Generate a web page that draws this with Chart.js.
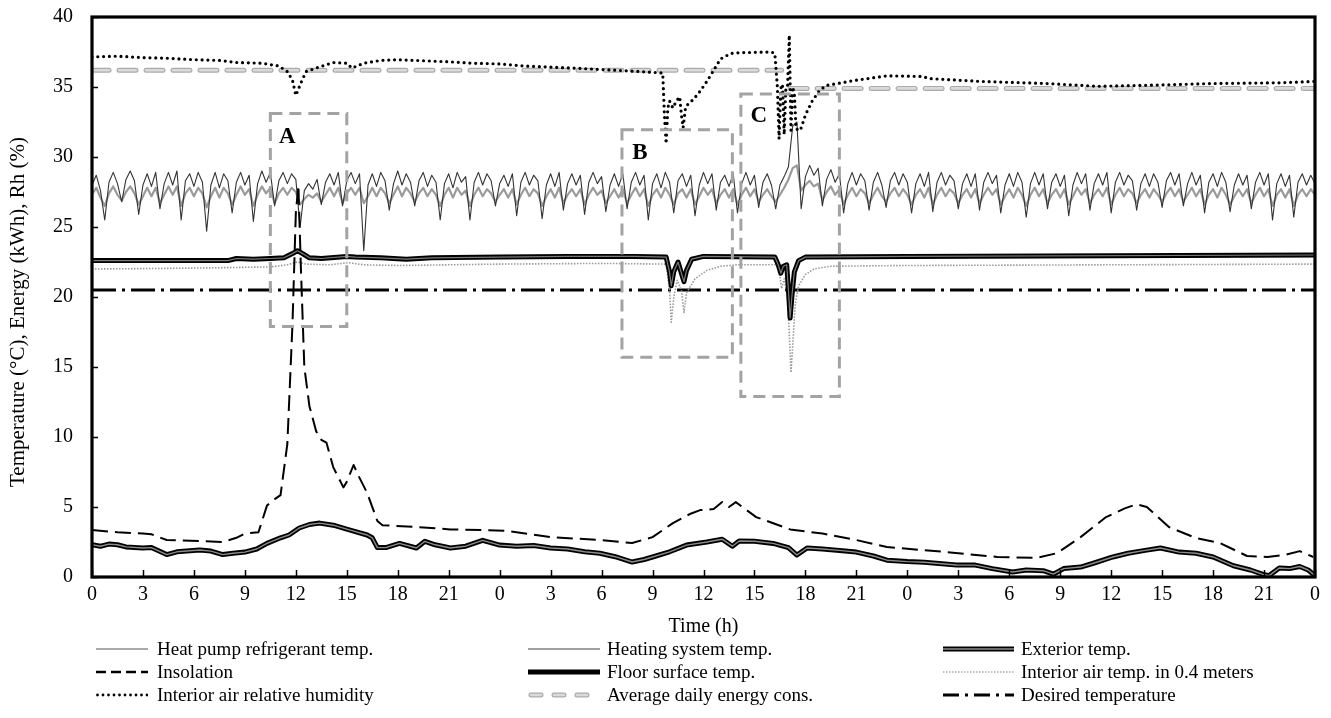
<!DOCTYPE html>
<html>
<head>
<meta charset="utf-8">
<script src="https://cdn.jsdelivr.net/npm/chart.js@4.4.1/dist/chart.umd.min.js"></script>
<style>
html,body{margin:0;padding:0;background:#fff;}
#wrap{position:relative;width:1331px;height:718px;font-family:"Liberation Serif","Times New Roman",serif;overflow:hidden;}
#chart{position:absolute;left:0;top:0;}
.lt{position:absolute;font-size:19px;line-height:22px;color:#000;white-space:nowrap;}
.ls{position:absolute;}
</style>
</head>
<body>
<div id="wrap">
  <canvas id="chart" width="1331" height="718"></canvas>
  <div id="legend"></div>
</div>
<script>
// ---- data (hours since start, 3 days) ----
const xTickHours  = [0,3,6,9,12,15,18,21,24,27,30,33,36,39,42,45,48,51,54,57,60,63,66,69,72];
const xTickLabels = ['0','3','6','9','12','15','18','21','0','3','6','9','12','15','18','21','0','3','6','9','12','15','18','21','0'];
const yTicks = [0,5,10,15,20,25,30,35,40];
const yTitle = 'Temperature (°C), Energy (kWh), Rh (%)';

// 15 min samples
const STEP_H = 0.25;
const refrigerant = [
  28.0,28.7,27.6,25.5,28.2,28.9,28.1,26.8,28.4,29.0,28.3,25.9,
  28.0,28.8,27.9,28.9,26.3,28.1,28.9,28.0,29.0,25.5,28.3,28.8,
  27.9,28.9,28.2,24.7,28.0,28.9,27.8,28.8,28.3,26.0,28.2,28.9,
  28.0,28.7,25.4,28.1,29.0,28.2,28.9,26.5,28.3,28.9,28.1,28.8,
  28.4,25.0,27.6,28.1,27.7,28.4,26.6,28.2,28.8,28.0,28.9,26.5,
  28.3,28.9,28.1,28.8,23.3,28.0,28.8,27.9,28.9,28.3,26.2,28.1,
  29.0,28.0,28.8,28.2,26.5,28.3,28.9,27.9,28.7,28.2,25.5,28.1,
  28.8,27.8,28.9,28.2,28.6,25.5,28.2,28.9,28.0,28.8,28.3,26.5,
  28.1,28.7,27.9,28.8,25.8,28.2,28.9,28.0,28.7,28.3,25.6,28.0,
  28.8,27.9,28.9,26.2,28.1,28.8,28.0,28.7,25.9,28.2,28.9,28.1,
  28.6,26.1,28.0,28.8,27.9,28.8,26.3,28.2,28.9,28.0,28.7,25.5,
  28.1,28.8,27.8,28.9,28.2,26.0,28.3,28.8,27.9,28.7,25.8,28.0,
  28.9,28.1,28.8,26.2,28.2,28.7,27.9,28.8,26.0,28.1,28.9,28.0,
  28.7,26.4,28.2,28.8,28.0,26.3,28.0,28.6,29.3,32.2,32.5,26.3,
  28.6,29.4,28.7,29.2,26.5,28.4,29.1,28.2,28.8,26.0,28.1,28.9,
  28.0,28.8,28.3,26.2,28.2,28.9,28.0,26.4,28.3,28.9,28.0,28.8,
  28.2,26.0,28.1,28.8,27.9,28.9,26.1,28.2,28.9,28.0,28.7,28.3,
  26.3,28.1,28.8,27.9,28.8,26.2,28.2,28.9,28.1,28.7,26.0,28.0,
  28.8,27.9,28.9,28.2,25.7,28.1,28.9,28.0,28.8,26.3,28.2,28.8,
  27.9,28.7,25.8,28.0,28.9,28.1,28.8,26.2,28.1,28.8,28.0,28.9,
  26.0,28.2,28.9,28.0,28.7,28.3,26.2,28.1,28.8,27.9,28.8,28.2,
  26.4,28.3,28.9,28.0,28.8,26.5,28.1,28.9,28.0,28.7,26.0,28.2,
  28.8,27.9,28.9,28.2,26.1,28.0,28.8,28.0,28.7,26.3,28.2,28.9,
  28.0,28.8,25.5,28.1,28.8,27.9,28.7,25.7,28.2,28.8,28.0,28.7,28.1
];
const heating = [
  27.3,27.8,27.1,26.5,27.4,27.9,27.3,26.9,27.5,27.9,27.4,26.6,
  27.2,27.8,27.2,27.8,26.7,27.3,27.9,27.3,27.9,26.5,27.4,27.8,
  27.2,27.8,27.4,26.4,27.2,27.8,27.1,27.8,27.4,26.6,27.3,27.9,
  27.3,27.7,26.5,27.3,27.9,27.4,27.8,26.7,27.4,27.8,27.3,27.8,
  27.5,26.6,27.0,27.3,27.1,27.4,26.8,27.3,27.8,27.2,27.8,26.7,
  27.4,27.8,27.3,27.8,26.7,27.2,27.8,27.2,27.8,27.4,26.7,27.3,
  27.9,27.2,27.8,27.4,26.8,27.4,27.8,27.2,27.7,27.3,26.5,27.3,
  27.8,27.1,27.8,27.3,27.6,26.5,27.3,27.8,27.2,27.7,27.4,26.8,
  27.3,27.7,27.1,27.7,26.6,27.3,27.8,27.2,27.7,27.4,26.5,27.2,
  27.7,27.1,27.8,26.7,27.3,27.7,27.2,27.7,26.6,27.3,27.8,27.3,
  27.6,26.7,27.2,27.7,27.1,27.7,26.7,27.3,27.8,27.2,27.7,26.5,
  27.3,27.7,27.1,27.8,27.3,26.6,27.4,27.7,27.1,27.7,26.6,27.2,
  27.8,27.3,27.7,26.7,27.3,27.7,27.1,27.7,26.6,27.3,27.8,27.2,
  27.7,26.8,27.3,27.7,27.2,26.8,27.3,27.8,28.4,29.2,29.4,27.6,
  28.0,28.3,27.9,28.1,26.9,27.5,27.9,27.3,27.7,26.6,27.3,27.8,
  27.2,27.7,27.4,26.7,27.3,27.8,27.2,26.8,27.4,27.8,27.2,27.7,
  27.3,26.6,27.3,27.7,27.1,27.8,26.6,27.3,27.8,27.2,27.7,27.4,
  26.7,27.3,27.7,27.1,27.7,26.7,27.3,27.8,27.3,27.7,26.6,27.2,
  27.7,27.1,27.8,27.3,26.5,27.3,27.8,27.2,27.7,26.7,27.3,27.7,
  27.1,27.7,26.6,27.2,27.8,27.3,27.7,26.7,27.3,27.7,27.2,27.8,
  26.6,27.3,27.8,27.2,27.7,27.4,26.7,27.3,27.7,27.1,27.7,27.3,
  26.8,27.4,27.8,27.2,27.7,26.8,27.3,27.8,27.2,27.7,26.6,27.3,
  27.7,27.1,27.8,27.3,26.6,27.2,27.7,27.2,27.7,26.7,27.3,27.8,
  27.2,27.7,26.5,27.3,27.7,27.1,27.7,26.5,27.3,27.7,27.2,27.7,27.3
];

const exteriorH = [0,0.5,1,1.5,2,3,3.5,4.4,5,6.35,7,7.7,8.3,9,9.7,10.3,11.1,11.6,12.2,12.8,13.4,14.2,15.2,16.2,16.5,16.8,17.3,18.1,19.1,19.6,20.2,21.1,22,23,24,25,26,27,28,29,29.9,30.8,31.8,32.5,33,34,35,36.2,37.1,37.7,38.1,39,40.1,41,41.5,42.1,43,44,45,46,46.8,48,49,50.9,52,53,54.2,55,56,56.6,57.2,58.2,59,60.1,61,62,62.9,64,65,66,67.2,68.2,68.9,69.3,69.9,70.5,71.1,71.6,72];
const exteriorV = [2.3,2.2,2.35,2.3,2.15,2.07,2.1,1.6,1.8,1.93,1.85,1.6,1.7,1.78,2.0,2.4,2.8,3.0,3.5,3.75,3.85,3.7,3.35,3.0,2.8,2.1,2.1,2.4,2.07,2.55,2.3,2.07,2.2,2.62,2.28,2.2,2.25,2.07,2.0,1.8,1.7,1.45,1.07,1.25,1.43,1.8,2.28,2.5,2.7,2.2,2.57,2.55,2.4,2.1,1.57,2.07,2.0,1.9,1.78,1.5,1.2,1.1,1.05,0.86,0.85,0.6,0.36,0.5,0.45,0.2,0.6,0.71,1.0,1.43,1.7,1.9,2.07,1.78,1.7,1.43,0.8,0.5,0.2,0.1,0.64,0.6,0.75,0.5,0.1];

const insolationH = [0,1.5,3,3.5,4.4,6.4,7.7,8.5,9,9.8,10.3,10.8,11.1,11.5,11.8,12.0,12.15,12.3,12.5,12.8,13.2,13.5,13.8,14.2,14.8,15.0,15.4,15.7,16.2,16.8,17.1,19.1,21.1,23,24.4,27,29.9,31.8,33,34.2,35.2,35.8,36.6,37.1,37.5,37.9,39.1,41.1,43,45,46.8,50.3,53.3,55.6,56.8,58.2,59.7,60.8,61.5,62.1,63.4,65,66.4,68,69.2,70.3,71.1,71.9];
const insolationV = [3.35,3.2,3.1,3.05,2.64,2.57,2.5,2.8,3.1,3.2,5.1,5.6,5.85,9.5,18,26,28.0,22,15,12.2,10.4,9.8,9.6,7.85,6.4,6.8,8.0,7.2,6.0,4.0,3.7,3.57,3.4,3.35,3.3,2.85,2.64,2.43,2.85,3.85,4.5,4.78,4.85,5.35,5.0,5.35,4.28,3.4,3.1,2.64,2.14,1.78,1.43,1.36,1.7,2.85,4.28,4.9,5.2,5.0,3.57,2.78,2.43,1.5,1.43,1.6,1.85,1.43];

const floorH = [0,8,8.5,9.5,10.5,11.3,11.8,12.1,12.4,12.8,13.5,15.0,15.5,17,18.5,20,24,28,32,33.8,34.0,34.1,34.25,34.5,34.75,34.85,35.0,35.3,36,40.2,40.4,40.55,40.7,40.9,41.0,41.1,41.2,41.35,41.6,42,48,72];
const floorV = [22.6,22.6,22.75,22.7,22.75,22.8,23.1,23.3,23.1,22.8,22.75,22.9,22.85,22.8,22.7,22.8,22.85,22.9,22.9,22.85,21.8,20.8,21.8,22.5,21.5,21.1,21.9,22.7,22.9,22.85,22.3,21.7,22.2,22.3,20.5,18.5,20.0,21.8,22.6,22.85,22.9,23.0];

const airH = [0,5,8,10.5,11.5,12.1,12.6,14,15.1,16,18,24,30,33.8,34.0,34.1,34.25,34.45,34.7,34.85,35.0,35.5,36.2,37.0,38,40.3,40.5,40.6,40.75,40.95,41.1,41.15,41.25,41.4,41.6,42.0,42.5,43.5,48,60,72];
const airV = [22.0,22.05,22.1,22.15,22.3,22.5,22.35,22.3,22.45,22.3,22.25,22.35,22.4,22.35,20.5,18.2,20.0,21.2,20.5,18.9,20.3,21.3,21.9,22.2,22.3,22.3,21.5,20.6,21.3,20.0,16.0,14.6,16.5,19.5,20.8,21.6,22.0,22.2,22.25,22.3,22.35];

const humidityH = [0,1.5,3,4.5,6,7.5,8.5,10,11,11.5,11.8,12.0,12.3,12.6,13.3,14.2,15.0,15.3,16.0,17,18,21,22.4,24,25.4,28.3,30,32.3,33.6,33.7,33.8,33.9,34.0,34.2,34.4,34.6,34.7,34.8,34.95,35.2,35.4,35.8,36.2,36.6,37.0,37.6,38.1,40.0,40.2,40.35,40.45,40.55,40.65,40.75,40.85,40.95,41.05,41.15,41.25,41.35,41.45,41.7,42.0,42.4,42.8,43.2,44.8,46.8,48.9,49.3,52.3,56.2,59.2,63.1,66,69.9,72];
const humidityV = [37.15,37.2,37.1,37.05,36.95,36.9,36.75,36.7,36.5,36.1,35.5,34.4,35.3,36.1,36.4,36.75,36.7,36.35,36.7,36.9,36.95,36.8,36.7,36.65,36.5,36.35,36.25,36.1,36.0,33.0,30.95,33.5,34.0,33.5,34.0,34.3,33.0,32.1,33.6,33.9,34.1,34.7,35.4,36.2,37.0,37.4,37.45,37.5,37.4,35.0,31.3,34.9,35.2,31.6,35.0,35.1,38.7,31.9,35.0,34.5,32.0,31.9,33.0,34.0,34.7,35.1,35.45,35.8,35.75,35.6,35.4,35.25,35.05,35.15,35.25,35.3,35.4];

const energyH = [0,40.6,40.6,41.1,72];
const energyV = [36.2,36.2,null,34.9,34.9];

const desiredH = [0,72];
const desiredV = [20.5,20.5];

// zoom boxes A, B, C (hours / axis units)
const boxNames = ['A','B','C'];
const boxX0 = [10.5,31.2,38.2];
const boxX1 = [15.0,37.7,44.0];
const boxY0 = [17.9,15.7,12.9];
const boxY1 = [33.1,31.95,34.5];
const boxLabelX = [11.5,32.25,39.25];
const boxLabelY = [31.4,30.3,32.9];

const legendLabels = [
  'Heat pump refrigerant temp.','Heating system temp.','Exterior temp.',
  'Insolation','Floor surface temp.','Interior air temp. in 0.4 meters',
  'Interior air relative humidity','Average daily energy cons.','Desired temperature'
];

// ---- helpers ----
const pts = (xs, ys) => xs.map((x, i) => ({x: x, y: ys[i]}));
const hourGrid = refrigerant.map((_, i) => i * STEP_H);
const SERIF = '"Liberation Serif","Times New Roman",serif';

function line(data, color, width, extra) {
  return Object.assign({data, borderColor: color, borderWidth: width, pointRadius: 0,
    tension: 0, fill: false, spanGaps: false, borderJoinStyle: 'round'}, extra || {});
}

// first = drawn on top
const datasets = [
  line(pts(humidityH, humidityV), '#000', 3.2, {borderDash: [0, 5.8], borderCapStyle: 'round'}),
  line(pts(insolationH, insolationV), '#000', 2, {borderDash: [16, 7]}),
  line(pts(exteriorH, exteriorV), '#8c8c8c', 1.4),
  line(pts(exteriorH, exteriorV), '#000', 5),
  line(pts(floorH, floorV), '#7a7a7a', 1.2),
  line(pts(floorH, floorV), '#000', 5),
  line(pts(airH, airV), '#999', 1.6, {borderDash: [1.5, 1.5]}),
  line(pts(desiredH, desiredV), '#000', 3, {borderDash: [24, 6, 3, 6]}),
  line(pts(hourGrid, refrigerant), '#333', 1.1),
  line(pts(hourGrid, heating), '#9a9a9a', 2.2),
  line(pts(energyH, energyV), '#dadada', 2.6, {borderDash: [17, 10], borderCapStyle: 'round'}),
  line(pts(energyH, energyV), '#ababab', 5, {borderDash: [17, 10], borderCapStyle: 'round'})
];

const framePlugin = {
  id: 'frame',
  afterDatasetsDraw(chart) {
    const {ctx, scales: {x, y}} = chart;
    ctx.save();
    ctx.strokeStyle = '#a3a3a3';
    ctx.lineWidth = 3;
    ctx.setLineDash([12, 7]);
    boxNames.forEach((n, i) => {
      const l = x.getPixelForValue(boxX0[i]), r = x.getPixelForValue(boxX1[i]);
      const t = y.getPixelForValue(boxY1[i]), b = y.getPixelForValue(boxY0[i]);
      ctx.strokeRect(l, t, r - l, b - t);
    });
    ctx.setLineDash([]);
    ctx.fillStyle = '#000';
    ctx.font = 'bold 23px ' + SERIF;
    ctx.textAlign = 'center';
    ctx.textBaseline = 'middle';
    boxNames.forEach((n, i) => {
      ctx.fillText(n, x.getPixelForValue(boxLabelX[i]), y.getPixelForValue(boxLabelY[i]));
    });
    ctx.restore();
  },
  afterDraw(chart) {
    const {ctx, chartArea: a, scales: {x, y}} = chart;
    ctx.save();
    ctx.strokeStyle = '#000';
    ctx.lineWidth = 1.5;
    ctx.beginPath();
    xTickHours.forEach(h => {
      const px = Math.round(x.getPixelForValue(h)) + 0.5;
      ctx.moveTo(px, a.bottom); ctx.lineTo(px, a.bottom - 7);
    });
    yTicks.forEach(v => {
      const py = Math.round(y.getPixelForValue(v)) + 0.5;
      ctx.moveTo(a.left, py); ctx.lineTo(a.left + 6, py);
    });
    ctx.stroke();
    ctx.lineWidth = 3.2;
    ctx.strokeRect(a.left, a.top, a.right - a.left, a.bottom - a.top);
    // y axis title, sits a bit below the plot centre as in the original
    ctx.translate(18, (a.top + a.bottom) / 2 + 15);
    ctx.rotate(-Math.PI / 2);
    ctx.fillStyle = '#000';
    ctx.font = '21px ' + SERIF;
    ctx.textAlign = 'center';
    ctx.textBaseline = 'middle';
    ctx.fillText(yTitle, 0, 0);
    ctx.restore();
  }
};

const tickFont = {family: SERIF, size: 20};

new Chart(document.getElementById('chart'), {
  type: 'line',
  data: {datasets},
  options: {
    responsive: false,
    animation: false,
    devicePixelRatio: 1,
    layout: {padding: {left: 0, right: 16, top: 17, bottom: 79}},
    plugins: {legend: {display: false}, tooltip: {enabled: false}},
    scales: {
      x: {
        type: 'linear', min: 0, max: 72,
        afterBuildTicks: s => { s.ticks = xTickHours.map(v => ({value: v})); },
        ticks: {callback: (v, i) => xTickLabels[i], font: tickFont, color: '#000', padding: 6, maxRotation: 0, autoSkip: false},
        grid: {display: false, drawTicks: false},
        border: {display: false},
        title: {display: true, text: 'Time (h)', font: tickFont, color: '#000', padding: {top: 0, bottom: 0}},
        afterFit: s => { s.height = 62; }
      },
      y: {
        type: 'linear', min: 0, max: 40,
        afterBuildTicks: s => { s.ticks = yTicks.map(v => ({value: v})); },
        ticks: {font: tickFont, color: '#000', padding: 19},
        grid: {display: false, drawTicks: false},
        border: {display: false},
        afterFit: s => { s.width = 92; s.paddingTop = 10; s.paddingBottom = 10; }
      }
    }
  },
  plugins: [framePlugin]
});

// ---- legend (3 x 3) ----
const legCol = [96, 528, 943];
const legColW = [52, 72, 71];
const legText = [157, 607, 1021];
const legRow = [649, 672, 695];
const legSample = [
  '<line x1="0" y1="6" x2="W" y2="6" stroke="#555" stroke-width="1"/>',
  '<line x1="0" y1="6" x2="W" y2="6" stroke="#a0a0a0" stroke-width="2"/>',
  '<line x1="0" y1="6" x2="W" y2="6" stroke="#000" stroke-width="5"/><line x1="0" y1="6" x2="W" y2="6" stroke="#8c8c8c" stroke-width="1.4"/>',
  '<line x1="0" y1="6" x2="W" y2="6" stroke="#000" stroke-width="2.5" stroke-dasharray="10 5"/>',
  '<line x1="0" y1="6" x2="W" y2="6" stroke="#000" stroke-width="5"/>',
  '<line x1="0" y1="6" x2="W" y2="6" stroke="#aaa" stroke-width="1.4" stroke-dasharray="1.5 1.5"/>',
  '<line x1="1.5" y1="6" x2="W" y2="6" stroke="#000" stroke-width="2.8" stroke-dasharray="0 5.5" stroke-linecap="round"/>',
  '<line x1="3" y1="6" x2="W" y2="6" stroke="#ababab" stroke-width="5" stroke-dasharray="10 13" stroke-linecap="round"/><line x1="3" y1="6" x2="W" y2="6" stroke="#dadada" stroke-width="2.6" stroke-dasharray="10 13" stroke-linecap="round"/>',
  '<line x1="0" y1="6" x2="W" y2="6" stroke="#000" stroke-width="3" stroke-dasharray="16 6 3 6"/>'
];
const legEl = document.getElementById('legend');
let html = '';
legendLabels.forEach((txt, i) => {
  const c = i % 3, r = Math.floor(i / 3), w = legColW[c];
  html += '<svg class="ls" width="' + w + '" height="12" style="left:' + legCol[c] + 'px;top:' + (legRow[r] - 6) + 'px">' +
    legSample[i].replace(/W/g, w) + '</svg>';
  html += '<div class="lt" style="left:' + legText[c] + 'px;top:' + (legRow[r] - 11) + 'px">' + txt + '</div>';
});
legEl.innerHTML = html;
</script>
</body>
</html>
